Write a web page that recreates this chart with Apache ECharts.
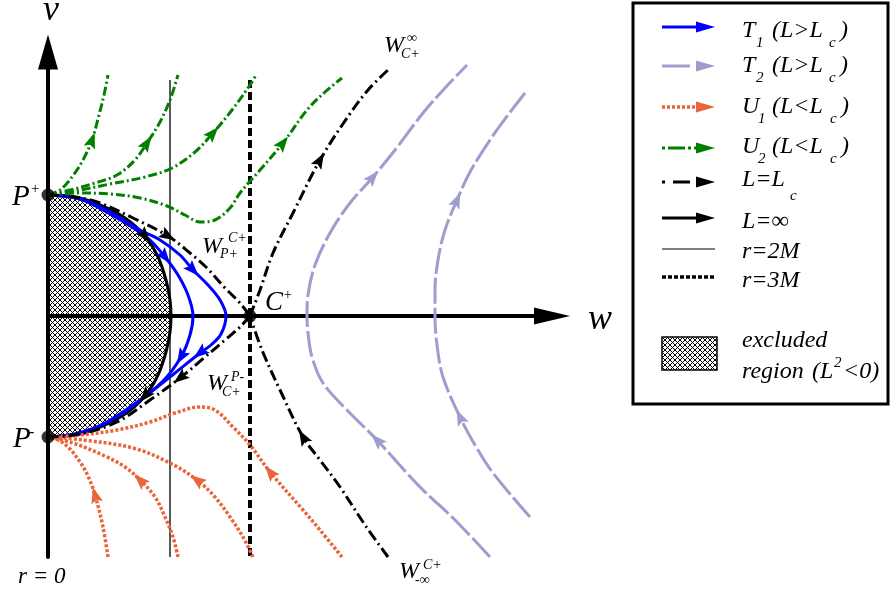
<!DOCTYPE html>
<html><head><meta charset="utf-8">
<script src="https://cdn.jsdelivr.net/npm/echarts@6/dist/echarts.min.js"></script>
<style>html,body{margin:0;padding:0;background:#fff}#c{width:891px;height:591px}</style>
</head><body><div id="c"></div><script>
// ---- data (w, v) in diagram units ----
const excludedBoundary = [[0,1.21],[0.27,1.19],[0.52,1.11],[0.77,0.98],[0.97,0.80],[1.10,0.59],[1.18,0.36],[1.22,0.16],[1.23,0],[1.22,-0.16],[1.18,-0.36],[1.10,-0.59],[0.97,-0.80],[0.77,-0.98],[0.52,-1.11],[0.27,-1.19],[0,-1.21]];
const t1Inner = [[0,1.21],[0.32,1.17],[0.62,1.02],[0.87,0.87],[1.02,0.76],[1.17,0.59],[1.30,0.41],[1.40,0.21],[1.45,0],[1.42,-0.19],[1.33,-0.41],[1.15,-0.65],[0.82,-0.92],[0.52,-1.10],[0.27,-1.18],[0,-1.21]];
const t1Outer = [[0,1.21],[0.32,1.17],[0.62,1.04],[0.92,0.86],[1.12,0.76],[1.32,0.61],[1.45,0.46],[1.60,0.31],[1.72,0.16],[1.78,0],[1.73,-0.18],[1.63,-0.29],[1.52,-0.37],[1.27,-0.57],[0.92,-0.84],[0.57,-1.07],[0.27,-1.18],[0,-1.21]];
const t2Inner = [[4.42,-2.41],[4.07,-2.04],[3.72,-1.71],[3.29,-1.24],[2.99,-0.94],[2.75,-0.67],[2.64,-0.41],[2.60,-0.17],[2.59,0],[2.60,0.21],[2.67,0.51],[2.82,0.83],[3.02,1.13],[3.25,1.39],[3.47,1.66],[3.75,2.03],[3.97,2.28],[4.19,2.51]];
const t2Outer = [[4.82,-2.01],[4.45,-1.57],[4.27,-1.29],[4.12,-1.01],[3.95,-0.61],[3.89,-0.29],[3.87,0],[3.87,0.26],[3.90,0.56],[3.97,0.86],[4.09,1.16],[4.22,1.44],[4.42,1.76],[4.60,2.01],[4.77,2.23]];
const u1a = [[0.60,-2.41],[0.55,-2.11],[0.47,-1.79],[0.40,-1.60],[0.32,-1.46],[0.22,-1.33],[0.12,-1.25],[0,-1.21]];
const u1b = [[1.30,-2.41],[1.25,-2.21],[1.17,-2.01],[1.07,-1.81],[0.92,-1.64],[0.77,-1.51],[0.59,-1.41],[0.25,-1.27],[0,-1.21]];
const u1c = [[2.05,-2.41],[1.95,-2.21],[1.82,-2.01],[1.67,-1.81],[1.49,-1.64],[1.22,-1.47],[0.85,-1.32],[0.35,-1.24],[0,-1.21]];
const u1d = [[2.94,-2.41],[2.72,-2.14],[2.55,-1.94],[2.22,-1.56],[2.02,-1.29],[1.85,-1.11],[1.67,-0.94],[1.52,-0.91],[1.27,-0.97],[1.02,-1.06],[0.69,-1.14],[0.32,-1.19],[0,-1.21]];
const u2a = [[0,1.21],[0.12,1.26],[0.24,1.39],[0.35,1.56],[0.44,1.76],[0.51,2.01],[0.56,2.21],[0.60,2.41]];
const u2b = [[0,1.21],[0.22,1.26],[0.47,1.33],[0.69,1.41],[0.87,1.56],[0.99,1.73],[1.12,1.94],[1.22,2.16],[1.30,2.41]];
const u2c = [[0,1.21],[0.27,1.25],[0.62,1.32],[0.97,1.39],[1.24,1.48],[1.47,1.64],[1.65,1.83],[1.84,2.06],[2.02,2.31],[2.08,2.41]];
const u2d = [[0,1.21],[0.27,1.23],[0.62,1.22],[0.92,1.18],[1.19,1.10],[1.37,1.01],[1.52,0.94],[1.67,0.96],[1.82,1.08],[1.92,1.23],[2.12,1.46],[2.35,1.73],[2.59,2.06],[2.77,2.24],[2.94,2.38]];
const sepPtoC = [[0,1.21],[0.27,1.19],[0.52,1.13],[0.87,0.97],[1.20,0.80],[1.42,0.63],[1.59,0.48],[1.77,0.28],[1.92,0.13],[2.02,0]];
const sepCtoP = [[2.02,0],[1.92,-0.11],[1.77,-0.24],[1.57,-0.41],[1.32,-0.62],[1.02,-0.84],[0.69,-1.06],[0.32,-1.18],[0,-1.21]];
const sepCtoInf = [[2.02,0],[2.12,0.26],[2.25,0.63],[2.45,1.03],[2.72,1.56],[2.99,1.98],[3.20,2.26],[3.40,2.46]];
const sepInfToC = [[3.40,-2.41],[3.17,-2.09],[2.92,-1.71],[2.72,-1.44],[2.55,-1.21],[2.32,-0.74],[2.14,-0.34],[2.02,0]];
const r2M = [[1.22,2.36],[1.22,-2.41]];
const r3M = [[2.02,2.36],[2.02,-2.41]];
const fixedPoints = [[0,1.21],[0,-1.21],[2.02,0]];

// ---- styles ----
const BLUE='#0000ff', LAV='#9d9dcf', ORA='#e9653b', GRN='#008000', BLK='#000';
const DASHDOT=[11,4,2,4], GDASH=[9,3,2,3], ODOT=[3,2], LDASH=[26,4];
const curveDefs = [
  {pts:excludedBoundary, color:BLK, width:3, type:'solid', arrows:[4,12]},
  {pts:t1Inner, color:BLUE, width:3, type:'solid', arrows:[5,10]},
  {pts:t1Outer, color:BLUE, width:3, type:'solid', arrows:[6,12]},
  {pts:t2Inner, color:LAV, width:3, type:LDASH, arrows:[3,13]},
  {pts:t2Outer, color:LAV, width:3, type:LDASH, arrows:[3,10]},
  {pts:u1a, color:ORA, width:3.5, type:ODOT, arrows:[2]},
  {pts:u1b, color:ORA, width:3.5, type:ODOT, arrows:[4]},
  {pts:u1c, color:ORA, width:3.5, type:ODOT, arrows:[4]},
  {pts:u1d, color:ORA, width:3.5, type:ODOT, arrows:[3]},
  {pts:u2a, color:GRN, width:3, type:GDASH, arrows:[4]},
  {pts:u2b, color:GRN, width:3, type:GDASH, arrows:[5]},
  {pts:u2c, color:GRN, width:3, type:GDASH, arrows:[6]},
  {pts:u2d, color:GRN, width:3, type:GDASH, arrows:[11]},
  {pts:sepPtoC, color:BLK, width:3, type:DASHDOT, arrows:[4]},
  {pts:sepCtoP, color:BLK, width:3, type:DASHDOT, arrows:[4]},
  {pts:sepCtoInf, color:BLK, width:3, type:DASHDOT, arrows:[4]},
  {pts:sepInfToC, color:BLK, width:3, type:DASHDOT, arrows:[4]}
];

// hatch pattern
const hatch = document.createElement('canvas');
hatch.width = 5; hatch.height = 5;
(function(){const g=hatch.getContext('2d');g.fillStyle='#fff';g.fillRect(0,0,5,5);g.strokeStyle='#000';g.lineWidth=1;g.beginPath();
 for(const o of [-5,0,5]){g.moveTo(o,0);g.lineTo(o+5,5);g.moveTo(o+5,0);g.lineTo(o,5);} g.stroke();})();

const series = [];
series.push({type:'custom', z:1, silent:true, data:[[0,0]], clip:false,
  renderItem:(p,api)=>({type:'polygon', shape:{points:excludedBoundary.map(q=>api.coord(q))}, style:{fill:{image:hatch, repeat:'repeat'}, stroke:null}})});
series.push({type:'line', data:r2M, showSymbol:false, symbol:'none', z:3, silent:true, lineStyle:{color:BLK, width:1.3}});
series.push({type:'line', data:r3M, showSymbol:false, symbol:'none', z:3, silent:true, lineStyle:{color:BLK, width:4, type:[8,4]}});
curveDefs.forEach(c=>series.push({type:'line', data:c.pts, smooth:0.35, showSymbol:false, symbol:'none', z:4, silent:true, clip:false,
  lineStyle:{color:c.color, width:c.width, type:c.type}}));
const arrowItems = [];
curveDefs.forEach((c,ci)=>c.arrows.forEach(ai=>arrowItems.push([c.pts[ai][0], c.pts[ai][1], ci, ai])));
series.push({type:'custom', z:5, silent:true, clip:false, data:arrowItems, encode:{x:0,y:1},
  renderItem:(params, api)=>{
    const c = curveDefs[api.value(2)], i = api.value(3), pts = c.pts;
    const P = api.coord(pts[i]), A = api.coord(pts[Math.max(0,i-1)]), B = api.coord(pts[Math.min(pts.length-1,i+1)]);
    const a = Math.atan2(B[1]-A[1], B[0]-A[0]), dx=Math.cos(a), dy=Math.sin(a);
    const L=16, W=6, N=3;
    const tip=[P[0]+dx*L/2, P[1]+dy*L/2], bk=[P[0]-dx*L/2, P[1]-dy*L/2];
    return {type:'polygon', shape:{points:[tip,[bk[0]-dy*W,bk[1]+dx*W],[bk[0]+dx*N,bk[1]+dy*N],[bk[0]+dy*W,bk[1]-dx*W]]}, style:{fill:c.color, stroke:null}};
  }});
series.push({type:'scatter', data:fixedPoints, symbolSize:13, z:6, silent:true, itemStyle:{color:BLK}});

// ---- labels & legend ----
const FONT='"Liberation Serif","Times New Roman",serif';
function txt(s,x,base,size,w){return {type:'text', z:100, silent:true, style:{text:s, x:x, y:base-0.27*size, font:'italic '+(w||'normal')+' '+size+'px '+FONT, fill:'#000', textAlign:'left', verticalAlign:'middle'}};}
const g = [];
g.push(txt('v',43,20,36), txt('w',588,329,36));
g.push(txt('P',12,205,29), txt('+',30,193,15));
g.push(txt('P',13,447,29), txt('-',29,437,16));
g.push(txt('C',265,310,27), txt('+',283,299,14));
g.push(txt('r = 0',18,583,23));
g.push(txt('W',202,253,24), txt('C+',228,242,14), txt('P+',220,258,14));
g.push(txt('W',207,390,24), txt('P-',231,381,14), txt('C+',222,396,14));
g.push(txt('W',384,52,24), txt('∞',407,42,14), txt('C+',401,58,14));
g.push(txt('W',399,578,24), txt('C+',423,569,14), txt('-∞',415,584,14));
// legend box
g.push({type:'rect', z:90, silent:true, shape:{x:633,y:3,width:255,height:401}, style:{fill:'#fff', stroke:'#000', lineWidth:3}});
function legLine(y,x2,color,width,dash,arrow){
  g.push({type:'line', z:100, silent:true, shape:{x1:662,y1:y,x2:x2,y2:y}, style:{stroke:color, lineWidth:width, lineDash:dash||null}});
  if(arrow) g.push({type:'polygon', z:100, silent:true, shape:{points:[[696,y-5.5],[715,y],[696,y+5.5]]}, style:{fill:color}});
}
legLine(27,700,BLUE,3,null,true);
legLine(66,690,LAV,3,null,true);
legLine(107,696,ORA,3.5,[3,2],true);
legLine(148,696,GRN,3,[3,3,17,3,3,3],true);
legLine(182,696,BLK,3,[3,8,17,50],true);
legLine(218,700,BLK,3,null,true);
legLine(249,715,BLK,1.2,null,false);
legLine(277,715,BLK,3.5,[4,2],false);
g.push({type:'rect', z:100, silent:true, shape:{x:662,y:337,width:55,height:33}, style:{fill:{image:hatch,repeat:'repeat'}, stroke:'#000', lineWidth:1.5}});
const LS=24, SS=15;
g.push(txt('T',742,37,LS), txt('1',756,47,SS), txt('(L>L',772,37,LS), txt('c',829,47,SS), txt(')',840,37,LS));
g.push(txt('T',742,72,LS), txt('2',756,82,SS), txt('(L>L',772,72,LS), txt('c',829,82,SS), txt(')',840,72,LS));
g.push(txt('U',742,113,LS), txt('1',758,123,SS), txt('(L<L',772,113,LS), txt('c',830,123,SS), txt(')',841,113,LS));
g.push(txt('U',742,153,LS), txt('2',758,163,SS), txt('(L<L',772,153,LS), txt('c',830,163,SS), txt(')',841,153,LS));
g.push(txt('L=L',742,186,LS), txt('c',790,200,SS));
g.push(txt('L=∞',742,228,LS));
g.push(txt('r=2M',742,258,LS));
g.push(txt('r=3M',742,287,LS));
g.push(txt('excluded',742,347,LS));
g.push(txt('region',742,378,LS), txt('(L',812,378,LS), txt('2',834,367,SS), txt('<0)',843,378,LS));

const chart = echarts.init(document.getElementById('c'), null, {renderer:'canvas'});
const axisCommon = {type:'value', z:2, axisTick:{show:false}, axisLabel:{show:false}, splitLine:{show:false}};
chart.setOption({
  animation:false,
  backgroundColor:'#fff',
  grid:{left:48, top:52, width:504, height:505},
  xAxis:Object.assign({}, axisCommon, {min:0, max:5.04, axisLine:{onZero:true, lineStyle:{color:'#000', width:4}, symbol:['none','triangle'], symbolSize:[17,36]}}),
  yAxis:Object.assign({}, axisCommon, {min:-2.41, max:2.64, axisLine:{onZero:true, lineStyle:{color:'#000', width:4}, symbol:['none','triangle'], symbolSize:[20,35]}}),
  series:series,
  graphic:g
});
</script></body></html>
